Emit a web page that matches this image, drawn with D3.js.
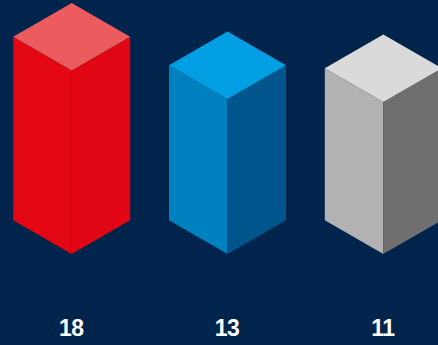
<!DOCTYPE html>
<html>
<head>
<meta charset="utf-8">
<script src="https://cdn.jsdelivr.net/npm/d3@7"></script>
<style>
  html, body { margin: 0; padding: 0; background: #00244b; overflow: hidden; }
</style>
</head>
<body>
<div class="canvas"></div>
<script>
const categories = ["red", "blue", "grey"]
const values = [18, 13, 11]
const topColors = ["#ec5b5d", "#009fe3", "#dadada"]
const leftColors = ["#e30613", "#0081bf", "#b2b2b2"]
const rightColors = ["#e10614", "#00558d", "#6f6f6f"]

const width = 438
const height = 345

const svg = d3.select(".canvas")
    .append("svg")
    .attr("width", width)
    .attr("height", height)

svg.append("rect")
    .attr("width", width)
    .attr("height", height)
    .attr("fill", "#00244b")

const baseY = 254       // bottom front corner
const halfW = 58.5      // half width of a column
const slope = Math.tan(Math.PI / 6)
const dy = halfW * slope

const scaleX = d3.scalePoint()
    .domain(categories)
    .range([71.7, 383.3])

// heights in the picture are not proportional, so piecewise scale
const scaleH = d3.scaleLinear()
    .domain([11, 13, 18])
    .range([152, 155, 183.5])

const data = categories.map((c, i) => ({
    cat: c,
    value: values[i],
    top: topColors[i],
    left: leftColors[i],
    right: rightColors[i]
}))

const cols = svg.selectAll("g.col")
    .data(data)
    .enter()
    .append("g")
    .attr("class", "col")

const pts = p => p.map(q => q.join(",")).join(" ")

cols.append("polygon")
    .attr("fill", d => d.left)
    .attr("points", d => {
        const cx = scaleX(d.cat), fy = baseY - scaleH(d.value)
        return pts([[cx - halfW, fy - dy], [cx, fy], [cx, baseY], [cx - halfW, baseY - dy]])
    })

cols.append("polygon")
    .attr("fill", d => d.right)
    .attr("points", d => {
        const cx = scaleX(d.cat), fy = baseY - scaleH(d.value)
        return pts([[cx, fy], [cx + halfW, fy - dy], [cx + halfW, baseY - dy], [cx, baseY]])
    })

cols.append("polygon")
    .attr("fill", d => d.top)
    .attr("points", d => {
        const cx = scaleX(d.cat), fy = baseY - scaleH(d.value)
        return pts([[cx, fy - 2 * dy], [cx + halfW, fy - dy], [cx, fy], [cx - halfW, fy - dy]])
    })

cols.append("text")
    .attr("x", d => scaleX(d.cat) - 0.5)
    .attr("y", 336)
    .attr("text-anchor", "middle")
    .attr("fill", "#ffffff")
    .attr("font-family", "'Liberation Sans', Arial, sans-serif")
    .attr("font-weight", "bold")
    .attr("font-size", "23px")
    .attr("letter-spacing", "-0.5px")
    .text(d => d.value)
</script>
</body>
</html>
